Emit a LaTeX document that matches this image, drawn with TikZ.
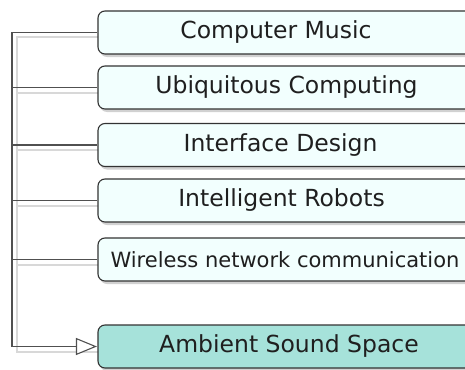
\documentclass[tikz,border=0pt]{standalone}
\usepackage{fontspec}
\setmainfont{DejaVu Sans}
\usetikzlibrary{arrows.meta,shadows,backgrounds}
\definecolor{boxfill}{HTML}{F2FFFE}
\definecolor{ambfill}{HTML}{A6E2DA}
\definecolor{linegray}{HTML}{505050}
\definecolor{shadegray}{HTML}{D8D8D8}
\tikzset{
  topic/.style={draw=black!80, line width=1.1pt, rounded corners=7pt, fill=boxfill,
    minimum width=376pt, minimum height=43pt, inner sep=0pt,
    drop shadow={shadow xshift=2pt, shadow yshift=-3pt, fill=black!30, opacity=0.6}},
  target/.style={topic, fill=ambfill},
  txt/.style={inner sep=0pt, font=\fontsize{23.5}{27}\selectfont, text=black!88},
  smalltxt/.style={txt, font=\fontsize{21}{25}\selectfont},
  conn/.style={draw=linegray, line width=1.1pt},
  connshade/.style={draw=shadegray, line width=2pt},
}
\begin{document}
\begin{tikzpicture}[x=1pt,y=-1pt]
\useasboundingbox (0,0) rectangle (465,369);
\clip (0,0) rectangle (465,369);
\node[topic,  label={[txt, xshift=-10pt]center:Computer Music}]        (b1) at (286,32.5)  {};
\node[topic,  label={[txt, xshift=0.5pt]center:Ubiquitous Computing}]  (b2) at (286,87.5)  {};
\node[topic,  label={[txt, xshift=-5.5pt]center:Interface Design}]     (b3) at (286,145)   {};
\node[topic,  label={[txt, xshift=-4.5pt]center:Intelligent Robots}]   (b4) at (286,200.5) {};
\node[topic,  label={[smalltxt, xshift=-1pt]center:Wireless network communication}] (b5) at (286,259.5) {};
\node[target, label={[txt, xshift=3pt]center:Ambient Sound Space}]     (b6) at (286,346.5) {};
\coordinate (trunk) at (12,32);
\coordinate (bot) at (12,346.5);
% shadows of connectors
\begin{scope}[on background layer]
\draw[connshade] ([xshift=5pt,yshift=-5pt]b1.west) -| ([xshift=5pt,yshift=-5pt]bot) -- ([xshift=5pt,yshift=-5pt]b6.west);
\foreach \b in {b2,b3,b4,b5}
  \draw[connshade] ([xshift=5pt,yshift=-5pt]\b.west) -- ([xshift=5pt,yshift=-5pt]\b.west -| trunk);
\end{scope}
% connectors
\draw[conn] (b1.west) -| (bot);
\foreach \b in {b2,b3,b4,b5} \draw[conn] (\b.west) -- (\b.west -| trunk);
\draw[conn, -{Triangle[open, fill=white, length=21pt, width=17pt, line width=1.1pt]}, shorten >=0.5pt] (bot) -- (b6.west);
\end{tikzpicture}
\end{document}
